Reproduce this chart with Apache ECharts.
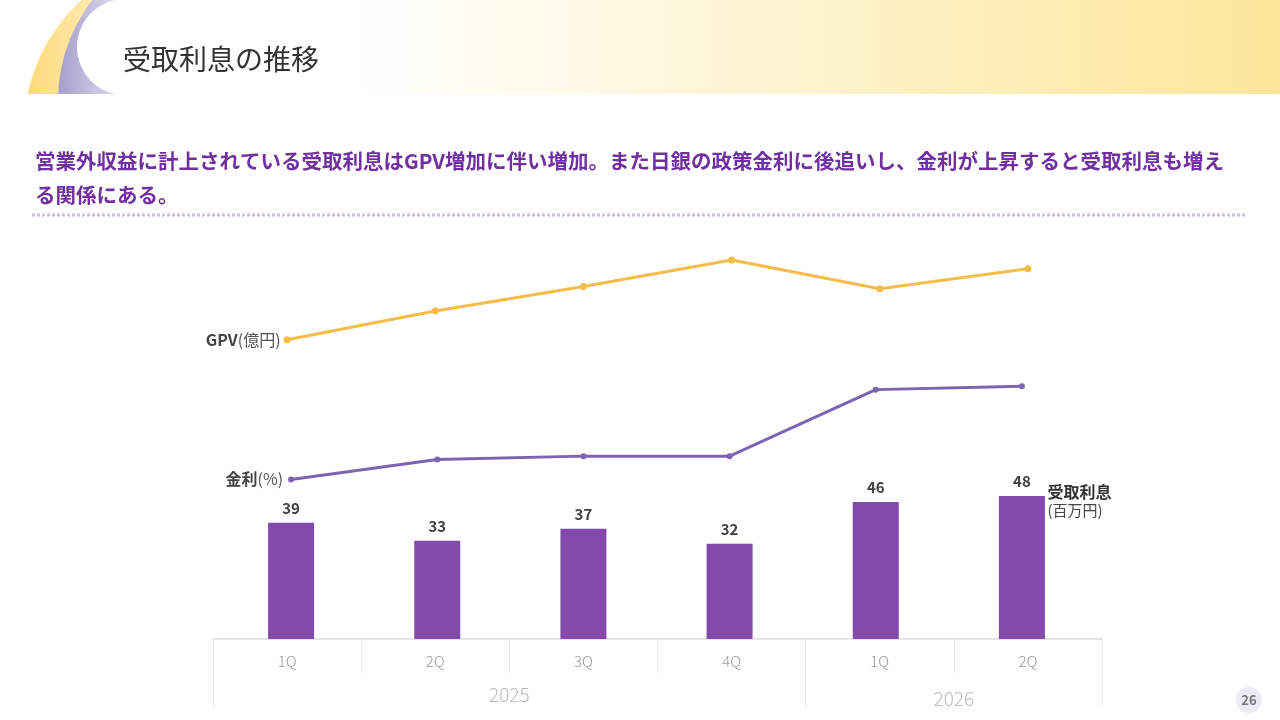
<!DOCTYPE html>
<html>
<head>
<meta charset="utf-8">
<script src="https://cdn.jsdelivr.net/npm/echarts@6/dist/echarts.min.js"></script>
<style>
  html, body { margin: 0; padding: 0; background: #fff; }
  #main { width: 1280px; height: 720px; }
</style>
</head>
<body>
<div id="main"></div>
<script>
// values (lines have no axis, so their scale is estimated)
const periodYears = ['2025', '2025', '2025', '2025', '2026', '2026'];
const quarters = ['1Q', '2Q', '3Q', '4Q', '1Q', '2Q'];
const yearLabels = ['2025', '2026'];
const interestIncome = [39, 33, 37, 32, 46, 48];     // 受取利息 (百万円)
const gpv = [1275, 1340, 1395, 1455, 1390, 1435];     // GPV (億円)
const rate = [0.48, 0.54, 0.55, 0.55, 0.75, 0.76];    // 金利 (%)

const FONT = '"Noto Sans CJK JP", "Noto Sans", sans-serif';
const categories = quarters.map((q, i) => periodYears[i] + ' ' + q);

const chart = echarts.init(document.getElementById('main'));

const nameRich = {
  b: { fontWeight: 'bold', fontSize: 16, color: '#444' },
  n: { fontSize: 16, color: '#555' }
};

const gpvData = gpv.map((v, i) => i === 0 ? {
  value: v,
  label: { show: true, position: 'left', distance: 3, formatter: '{b|GPV}{n|(億円)}', rich: nameRich }
} : v);

const rateData = rate.map((v, i) => i === 0 ? {
  value: v,
  label: { show: true, position: 'left', distance: 5, formatter: '{b|金利}{n|(%)}', rich: nameRich }
} : v);

const option = {
  animation: false,
  textStyle: { fontFamily: FONT },
  graphic: [
    // header decoration
    { type: 'circle', shape: { cx: 200, cy: 130, r: 176 },
      style: { fill: new echarts.graphic.LinearGradient(24, 0, 130, 0, [
        { offset: 0, color: '#fdd978' }, { offset: 1, color: '#fff3cc' }], true) } },
    { type: 'circle', shape: { cx: 220, cy: 100, r: 162 },
      style: { fill: new echarts.graphic.LinearGradient(58, 0, 125, 0, [
        { offset: 0, color: '#a59dcb' }, { offset: 1, color: '#e6e3f2' }], true) } },
    { type: 'circle', shape: { cx: 125, cy: 47, r: 48 }, style: { fill: '#fff' } },
    { type: 'rect', shape: { x: 125, y: 0, width: 1155, height: 94 },
      style: { fill: new echarts.graphic.LinearGradient(0, 0, 1, 0, [
        { offset: 0, color: '#ffffff' }, { offset: 0.2, color: '#ffffff' },
        { offset: 1, color: '#fde699' }]) } },
    { type: 'rect', shape: { x: 0, y: 94, width: 420, height: 230 }, style: { fill: '#fff' } },
    { type: 'text', style: { text: '受取利息の推移', x: 123, y: 59, verticalAlign: 'middle',
      font: '28px ' + FONT, fill: '#333' } },
    // headline
    { type: 'text', style: { text: '営業外収益に計上されている受取利息はGPV増加に伴い増加。また日銀の政策金利に後追いし、金利が上昇すると受取利息も増え',
      x: 35, y: 161, verticalAlign: 'middle', font: 'bold 20.5px ' + FONT, fill: '#7030a0' } },
    { type: 'text', style: { text: 'る関係にある。', x: 35, y: 195, verticalAlign: 'middle',
      font: 'bold 20.5px ' + FONT, fill: '#7030a0' } },
    { type: 'line', shape: { x1: 32, y1: 215, x2: 1245, y2: 215 },
      style: { stroke: '#cbbde6', lineWidth: 3, lineDash: [3, 2] } },
    // page number
    { type: 'circle', shape: { cx: 1249, cy: 700, r: 13 }, style: { fill: '#ecebf5' } },
    { type: 'text', style: { text: '26', x: 1249, y: 700, align: 'center', verticalAlign: 'middle',
      font: 'bold 13px ' + FONT, fill: '#777' } }
  ],
  grid: [
    { left: 213, right: 178, top: 240, bottom: 81 },
    { left: 218, right: 185, top: 240, bottom: 81 }
  ],
  xAxis: [
    {
      type: 'category', gridIndex: 0, data: categories, boundaryGap: true,
      axisLine: { show: true, lineStyle: { color: '#e6e6e6', width: 2 } },
      axisTick: { show: true, interval: 0, alignWithLabel: false, length: 34, lineStyle: { color: '#e8e8e8', width: 1 } },
      axisLabel: {
        interval: 0, margin: 15, fontSize: 15, color: '#999', fontWeight: 300,
        formatter: v => v.split(' ')[1]
      },
      splitLine: { show: false }
    },
    {
      type: 'value', gridIndex: 0, position: 'bottom', min: 0, max: 6,
      axisLine: { show: false },
      axisTick: { show: true, customValues: [0, 4, 6], length: 68, lineStyle: { color: '#e8e8e8' } },
      axisLabel: {
        customValues: [2, 5], margin: 46, color: '#bbb', fontSize: 19, fontWeight: 300,
        formatter: v => v === 2 ? '{a|' + yearLabels[0] + '}' : '{b|' + yearLabels[1] + '}',
        rich: { a: { fontSize: 19, color: '#bbb' }, b: { fontSize: 19, color: '#bbb', padding: [4, 0, 0, 0] } }
      },
      splitLine: { show: false }
    },
    {
      type: 'category', gridIndex: 1, data: categories, show: false
    }
  ],
  yAxis: [
    { type: 'value', gridIndex: 0, min: 600, max: 1500, show: false },
    { type: 'value', gridIndex: 1, min: 0, max: 134, show: false },
    { type: 'value', gridIndex: 1, min: 0, max: 1.2, show: false }
  ],
  series: [
    {
      name: '受取利息', type: 'bar', xAxisIndex: 2, yAxisIndex: 1,
      data: interestIncome, barWidth: 46,
      itemStyle: { color: '#8349ab' },
      label: { show: true, position: 'top', distance: 7, fontWeight: 'bold', fontSize: 15, color: '#404040' },
      markPoint: {
        symbol: 'circle', symbolSize: 1, itemStyle: { color: 'rgba(0,0,0,0)' },
        label: {
          show: true, position: 'right', distance: 25, offset: [0, 5],
          formatter: '{b|受取利息}\n{n|(百万円)}',
          rich: {
            b: { fontWeight: 'bold', fontSize: 16, color: '#333', lineHeight: 19 },
            n: { fontSize: 15, color: '#444', lineHeight: 19 }
          }
        },
        data: [{ coord: [interestIncome.length - 1, interestIncome[interestIncome.length - 1]] }]
      }
    },
    {
      name: 'GPV', type: 'line', xAxisIndex: 0, yAxisIndex: 0,
      data: gpvData, symbol: 'circle', symbolSize: 7,
      lineStyle: { color: '#f6bc4a', width: 3 }, itemStyle: { color: '#f6bc4a' }
    },
    {
      name: '金利', type: 'line', xAxisIndex: 2, yAxisIndex: 2,
      data: rateData, symbol: 'circle', symbolSize: 6,
      lineStyle: { color: '#7b64b2', width: 3 }, itemStyle: { color: '#7b64b2' }
    }
  ]
};

chart.setOption(option);
</script>
</body>
</html>
